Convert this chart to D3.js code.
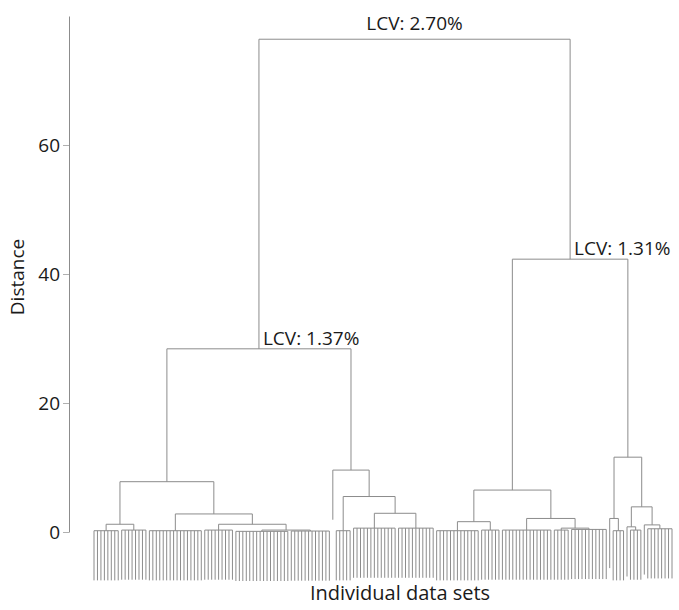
<!DOCTYPE html>
<html>
<head>
<meta charset="utf-8">
<script src="https://cdn.jsdelivr.net/npm/d3@7"></script>
<style>
  body { margin: 0; background: #fff; }
  svg { display: block; font-family: "Open Sans", sans-serif; }
</style>
</head>
<body>
<svg id="chart" width="679" height="610"></svg>
<script>
// bottom clusters, left to right: name, number of data sets, merge height
const groupNames   = ["a1", "a2", "a3", "a4", "a5", "a6", "b0", "b1", "b2", "b3", "c1", "c2", "c3", "c4", "c5", "d0", "d1", "d2", "d3", "d4", "d5"];
const groupSizes   = [8, 8, 16, 9, 16, 12, 1, 5, 13, 11, 13, 6, 15, 5, 11, 1, 4, 1, 4, 1, 8];
const groupHeights = [0.2, 0.3, 0.2, 0.3, 0.1, 0.15, 0, 0.2, 0.6, 0.6, 0.2, 0.3, 0.3, 0.3, 0.4, 0, 0.2, 0, 0.3, 0, 0.5];

// merges: [node, left, right, distance]
const merges = [
  ["A1", "a1", "a2", 1.2],
  ["A2b2", "a5", "a6", 0.3],
  ["A2b", "a4", "A2b2", 1.2],
  ["A2", "a3", "A2b", 2.8],
  ["A", "A1", "A2", 7.8],
  ["B2b", "b2", "b3", 2.9],
  ["B2", "b1", "B2b", 5.5],
  ["B", "b0", "B2", 9.6],
  ["L", "A", "B", 28.4],
  ["C1", "c1", "c2", 1.6],
  ["C2b", "c4", "c5", 0.6],
  ["C2", "c3", "C2b", 2.1],
  ["C", "C1", "C2", 6.5],
  ["D1", "d0", "d1", 2.1],
  ["D2a", "d2", "d3", 0.8],
  ["D2b", "d4", "d5", 1.1],
  ["D2", "D2a", "D2b", 3.9],
  ["D", "D1", "D2", 11.6],
  ["R", "C", "D", 42.3],
  ["root", "L", "R", 76.4]
];

const lcvNodes  = ["root", "L", "R"];
const lcvLabels = ["LCV: 2.70%", "LCV: 1.37%", "LCV: 1.31%"];
const yTicks = [0, 20, 40, 60];
const hang = 7.7;

const N = d3.sum(groupSizes);
const svg = d3.select("#chart");
const x = d3.scaleLinear().domain([0, N - 1]).range([94, 672]);
const y = d3.scaleLinear().domain([0, 80]).range([532, 16]);

// build nodes
const nodes = {};
let idx = 0;
groupNames.forEach((name, i) => {
  const n = groupSizes[i];
  if (n === 1) {
    nodes[name] = { pos: idx, leaf: true };
  } else {
    const kids = d3.range(idx, idx + n).map(p => ({ pos: p, leaf: true }));
    nodes[name] = { pos: idx + (n - 1) / 2, h: groupHeights[i], kids: kids };
  }
  idx += n;
});
merges.forEach(([name, a, b, h]) => {
  const l = nodes[a], r = nodes[b];
  nodes[name] = { pos: (l.pos + r.pos) / 2, h: h, kids: [l, r] };
});

const segs = [];
Object.values(nodes).forEach(nd => {
  if (!nd.kids) return;
  const xs = nd.kids.map(k => x(k.pos));
  segs.push([d3.min(xs), y(nd.h), d3.max(xs), y(nd.h)]);
  nd.kids.forEach(k => {
    const bottom = k.leaf ? y(nd.h - hang) : y(k.h);
    segs.push([x(k.pos), y(nd.h), x(k.pos), bottom]);
  });
});

svg.append("g")
  .selectAll("line")
  .data(segs)
  .join("line")
  .attr("x1", d => d[0]).attr("y1", d => d[1])
  .attr("x2", d => d[2]).attr("y2", d => d[3])
  .attr("stroke", "#8c8c8c")
  .attr("stroke-width", 1);

// y axis
const yAxis = svg.append("g")
  .attr("transform", "translate(69,0)")
  .call(d3.axisLeft(y).tickValues(yTicks).tickSize(6).tickSizeOuter(0).tickPadding(3));
yAxis.select(".domain").attr("stroke", "#8c8c8c");
yAxis.selectAll(".tick line").attr("stroke", "#b0b0b0");
yAxis.selectAll(".tick text")
  .attr("font-size", 19)
  .attr("font-family", "Open Sans, sans-serif")
  .attr("fill", "#1a1a1a");

svg.append("text")
  .attr("transform", "translate(24,277) rotate(-90)")
  .attr("text-anchor", "middle")
  .attr("font-size", 19)
  .attr("fill", "#1a1a1a")
  .text("Distance");

svg.append("text")
  .attr("x", 400)
  .attr("y", 600)
  .attr("text-anchor", "middle")
  .attr("font-size", 20)
  .attr("fill", "#1a1a1a")
  .text("Individual data sets");

// LCV labels
lcvNodes.forEach((name, i) => {
  const nd = nodes[name];
  const isRoot = name === "root";
  svg.append("text")
    .attr("x", isRoot ? x(nd.pos) : x(nd.pos) + 4)
    .attr("y", isRoot ? y(nd.h) - 9 : y(nd.h) - 4)
    .attr("text-anchor", isRoot ? "middle" : "start")
    .attr("font-size", 19)
    .attr("fill", "#1a1a1a")
    .text(lcvLabels[i]);
});
</script>
</body>
</html>
